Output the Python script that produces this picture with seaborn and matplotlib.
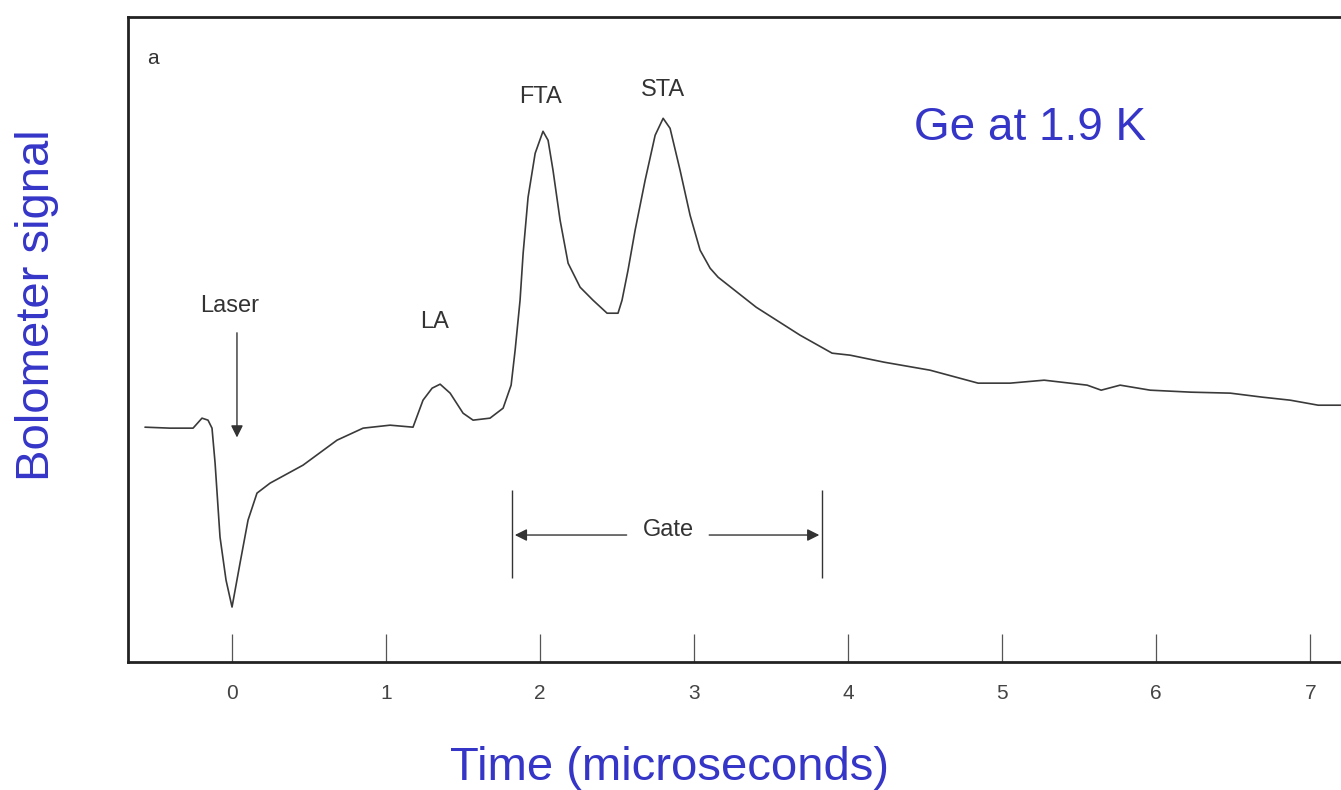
import pandas as pd
import matplotlib.pyplot as plt
import seaborn as sns

# Bolometer trace (time in microseconds, signal in arb. units)
time_us = [-0.565, -0.403, -0.253, -0.195, -0.156, -0.130, -0.110, -0.078, -0.039, 0.000,
           0.052, 0.104, 0.162, 0.247, 0.461, 0.682, 0.851, 1.026, 1.175, 1.240,
           1.299, 1.351, 1.416, 1.500, 1.565, 1.675, 1.760, 1.812, 1.838, 1.870,
           1.890, 1.922, 1.968, 2.019, 2.052, 2.084, 2.130, 2.182, 2.260, 2.344,
           2.435, 2.506, 2.532, 2.571, 2.617, 2.682, 2.747, 2.799, 2.844, 2.909,
           2.974, 3.039, 3.104, 3.156, 3.403, 3.688, 3.896, 4.013, 4.234, 4.532,
           4.844, 5.052, 5.273, 5.552, 5.643, 5.766, 5.961, 6.227, 6.481, 6.688,
           6.870, 7.052, 7.201]
signal = [3.643, 3.628, 3.628, 3.783, 3.752, 3.628, 3.085, 1.938, 1.271, 0.853,
          1.535, 2.202, 2.620, 2.775, 3.054, 3.442, 3.628, 3.674, 3.643, 4.062,
          4.248, 4.310, 4.171, 3.860, 3.752, 3.783, 3.938, 4.295, 4.837, 5.612,
          6.341, 7.209, 7.891, 8.233, 8.093, 7.628, 6.853, 6.186, 5.814, 5.612,
          5.411, 5.411, 5.612, 6.078, 6.698, 7.473, 8.171, 8.434, 8.279, 7.628,
          6.930, 6.388, 6.109, 5.969, 5.504, 5.070, 4.791, 4.760, 4.651, 4.527,
          4.326, 4.326, 4.372, 4.295, 4.217, 4.295, 4.217, 4.186, 4.171, 4.109,
          4.062, 3.984, 3.984]
tick_values = [0, 1, 2, 3, 4, 5, 6, 7]

df = pd.DataFrame({'time': time_us, 'signal': signal})

sns.set_style('white')
plt.rcParams['font.family'] = ['Liberation Sans', 'DejaVu Sans']

fig = plt.figure(figsize=(13.41, 7.90), dpi=100)
ax = fig.add_axes([0.0955, 0.162, 0.9045, 0.816])

sns.lineplot(data=df, x='time', y='signal', ax=ax, color='#3a3a3a', linewidth=1.2)

ax.set_xlim(-0.675, 7.2)
ax.set_ylim(0, 10)
ax.set_xticks(tick_values)
ax.set_xticklabels([str(t) for t in tick_values], fontsize=15, color='#444444')
ax.set_yticks([])
ax.tick_params(axis='x', bottom=True, direction='in', length=20, width=0.9,
               color='#555555', pad=16)
ax.set_xlabel('')
ax.set_ylabel('')

for side in ['left', 'top', 'bottom']:
    ax.spines[side].set_color('#222222')
    ax.spines[side].set_linewidth(2)
ax.spines['right'].set_visible(False)

ink = '#333333'
ax.text(-0.513, 9.36, 'a', fontsize=15, color=ink, ha='center', va='center')
ax.text(2.0, 8.76, 'FTA', fontsize=17, color=ink, ha='center', va='center')
ax.text(2.80, 8.87, 'STA', fontsize=17, color=ink, ha='center', va='center')
ax.text(1.318, 5.27, 'LA', fontsize=17, color=ink, ha='center', va='center')
ax.text(-0.013, 5.53, 'Laser', fontsize=17, color=ink, ha='center', va='center')
ax.annotate('', xy=(0.032, 3.44), xytext=(0.032, 5.15),
            arrowprops=dict(arrowstyle='-|>', color=ink, lw=1, mutation_scale=18))

# gate markers
ax.vlines([1.818, 3.831], 1.30, 2.67, color=ink, lw=1)
ax.text(2.831, 2.047, 'Gate', fontsize=17, color=ink, ha='center', va='center')
ax.annotate('', xy=(1.818, 1.97), xytext=(2.58, 1.97),
            arrowprops=dict(arrowstyle='-|>', color=ink, lw=1, mutation_scale=18))
ax.annotate('', xy=(3.831, 1.97), xytext=(3.08, 1.97),
            arrowprops=dict(arrowstyle='-|>', color=ink, lw=1, mutation_scale=18))

blue = '#3535c8'
ax.text(5.18, 8.28, 'Ge at 1.9 K', fontsize=33, color=blue, ha='center', va='center')
fig.text(0.0276, 0.614, 'Bolometer signal', fontsize=34, color=blue,
         rotation=90, ha='center', va='center')
fig.text(0.4996, 0.0278, 'Time (microseconds)', fontsize=34, color=blue,
         ha='center', va='center')

fig.savefig('out.png', dpi=100)
